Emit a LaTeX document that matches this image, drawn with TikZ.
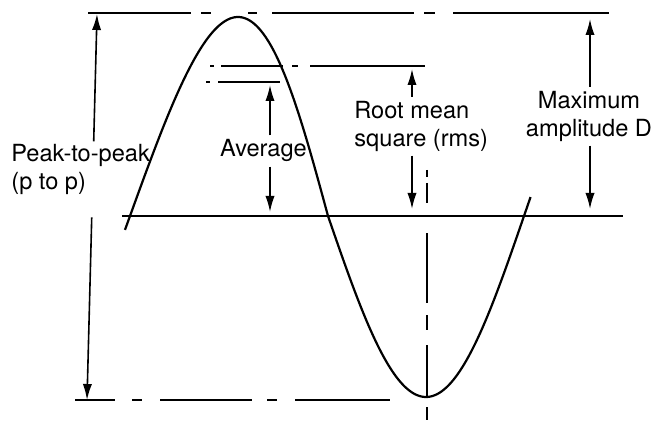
\documentclass[tikz,border=0pt]{standalone}
\usepackage{fontspec}
\setmainfont{TeX Gyre Heros}
\usetikzlibrary{arrows.meta, calc}

\begin{document}
\begin{tikzpicture}[x=0.5pt, y=-0.5pt, >={Latex[length=8pt,width=4.6pt]},
  lbl/.style={font=\fontsize{11.8}{13.8}\selectfont, inner sep=2pt},
  dim/.style={->, line width=0.8pt},
  wave/.style={line width=1.1pt},
  ref/.style={line width=1.1pt}]

\useasboundingbox (0,0) rectangle (652,422);

% Zero line
\draw[ref] (122,216) -- (623,216);

% Peak and trough lines
\draw[ref, dash pattern=on 51.5pt off 5pt on 5pt off 18.5pt on 4.5pt off 7.5pt on 71pt off 5pt on 5.5pt off 9pt on 78pt]
  (88,13) -- (609,13);
\draw[ref, dash pattern=on 20pt off 8.5pt on 5pt off 9pt on 46pt off 7.5pt on 5pt off 9pt on 47.5pt]
  (75,400) -- (390,400);

% rms and average levels
\draw[ref, dash pattern=on 2pt off 3.5pt on 31pt off 4.5pt on 3pt off 6pt on 57.5pt]
  (210,66) -- (425,66);
\draw[ref, dash pattern=on 2pt off 4pt on 31pt] (206,82) -- (280,82);

% Centre line through the trough
\draw[ref, dash pattern=on 3.5pt off 3pt on 10pt off 15pt on 35pt off 6pt on 7.5pt off 7.5pt on 26pt off 5pt on 6.5pt]
  (427,170) -- (427,420);

% Sine wave
\draw[wave] plot[variable=\t, domain=-4:180, samples=90]
    ({130 + 1.1*\t + 9*sin(\t)}, {216 - 199*sin(\t)})
  -- plot[variable=\t, domain=180:366, samples=90]
    ({328 + 1.0889*(\t-180)}, {216 - 181*sin(\t)});

% Labels
\node[lbl, anchor=north west, align=left, inner sep=0pt] (ptp) at (11,144) {Peak-to-peak\\(p to p)};
\node[lbl, anchor=base] (avg) at (263.5,157) {Average};
\node[lbl, anchor=north west, align=left] (rms) at (350,97) {Root mean\\square (rms)};
\node[lbl, anchor=north, align=center] (amp) at (589,87) {Maximum\\amplitude D};

% Arrow ends
\coordinate (ppTop) at (97,14);
\coordinate (ppBot) at (87,400);
\coordinate (avgTop) at (270,85);
\coordinate (avgBot) at (270,212);
\coordinate (rmsTop) at (412,69);
\coordinate (rmsBot) at (412,209);
\coordinate (ampTop) at (590,19);
\coordinate (ampBot) at (590,209);

% Dimension arrows
\draw[dim] ($(ppTop)!0.33!(ppBot)$) -- (ppTop);
\draw[dim] ($(ppTop)!0.527!(ppBot)$) -- (ppBot);
\draw[dim] (avg.north -| avgTop) -- (avgTop);
\draw[dim] (avg.south -| avgBot) -- (avgBot);
\draw[dim] (rms.north -| rmsTop) -- (rmsTop);
\draw[dim] (rms.south -| rmsBot) -- (rmsBot);
\draw[dim] (amp.north -| ampTop) -- (ampTop);
\draw[dim] (amp.south -| ampBot) -- (ampBot);

\end{tikzpicture}
\end{document}
